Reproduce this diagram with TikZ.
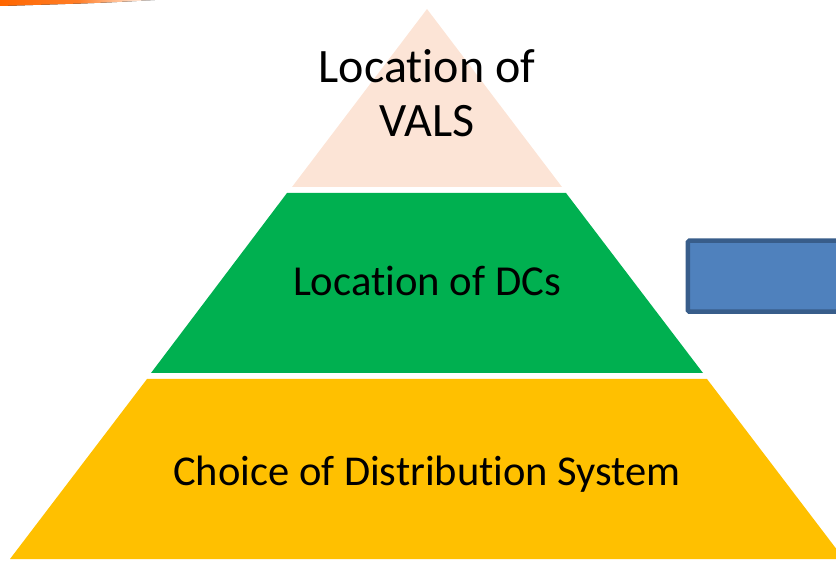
\documentclass[tikz,border=0pt]{standalone}
\usepackage{fontspec}
\setmainfont{Carlito}[Ligatures=NoCommon]
\usepackage{tikz}
\usetikzlibrary{arrows}
\usetikzlibrary{shapes}

\definecolor{peach}{RGB}{252,228,214}
\definecolor{dcgreen}{RGB}{0,176,80}
\definecolor{amber}{RGB}{255,192,0}
\definecolor{boxblue}{RGB}{79,129,189}
\definecolor{boxedge}{RGB}{56,93,138}
\definecolor{swoosh}{RGB}{255,102,0}

\begin{document}
\begin{tikzpicture}[x=1pt, y=-1pt, every node/.style={inner sep=0pt}]
\useasboundingbox (0,0) rectangle (836,561);
\clip (0,0) rectangle (836,561);

\fill[left color=swoosh, right color=white, middle color=swoosh!85] (0,0) -- (155,0) .. controls (100,3) .. (0,6) -- cycle;

\fill[peach] (427,9) -- (562,187) -- (292,187) -- cycle;
\fill[dcgreen] (287,193) -- (566,193) -- (703,373) -- (151,373) -- cycle;
\fill[amber] (147,379) -- (707,379) -- (844,559) -- (10,559) -- cycle;

\node[font=\fontsize{48}{54}\selectfont, align=center, anchor=base] (vals) at (427,137) {Location of\\VALS};
\node[font=\fontsize{42.7}{50}\selectfont, anchor=base] (dcs) at (427,296) {Location of DCs};
\node[font=\fontsize{42.5}{50}\selectfont, anchor=base] (dist) at (427,485) {Choice of Distribution System};

\node[draw=boxedge, fill=boxblue, line width=4.5pt, rounded corners=1.5pt, anchor=north west,
  minimum width=220pt, minimum height=71pt] (box) at (685.5,238.5) {};
\end{tikzpicture}
\end{document}
